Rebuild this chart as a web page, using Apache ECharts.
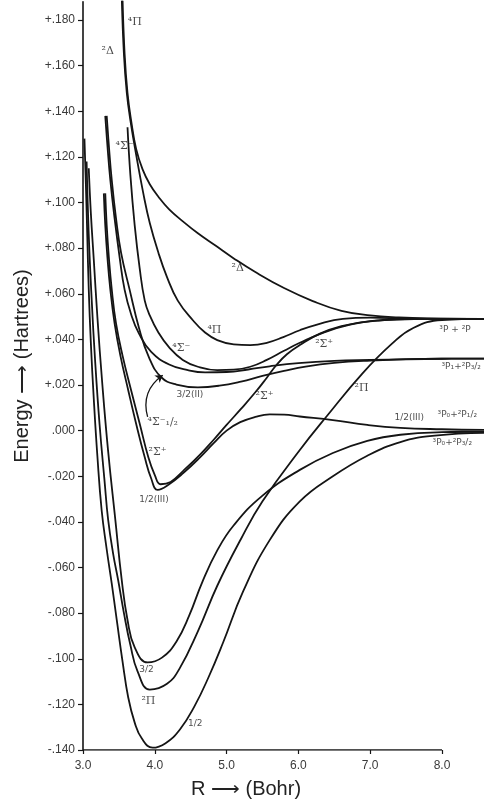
<!DOCTYPE html>
<html>
<head>
<meta charset="utf-8">
<script src="https://cdn.jsdelivr.net/npm/echarts@6/dist/echarts.min.js"></script>
<style>
  html, body { margin: 0; padding: 0; background: #fff; }
  #chart { width: 484px; height: 808px; }
</style>
</head>
<body>
<div id="chart"></div>
<script>
// Potential energy curves: energy (hartree) against internuclear distance R (bohr)

const xTicks = [3, 4, 5, 6, 7, 8];
const yTicks = [-0.14, -0.12, -0.10, -0.08, -0.06, -0.04, -0.02, 0, 0.02, 0.04, 0.06, 0.08, 0.10, 0.12, 0.14, 0.16, 0.18];
const baseR = [3, 8];

// 1/2 (deepest well)
const halfR = [3.02, 3.04, 3.06, 3.08, 3.11, 3.15, 3.20, 3.26, 3.33, 3.40, 3.47, 3.55, 3.63, 3.72, 3.82, 3.97, 4.15, 4.35, 4.55, 4.75, 4.95, 5.23, 5.6, 6.02, 6.48, 6.96, 7.42, 7.9, 8.6];
const halfE = [0.128, 0.108, 0.085, 0.062, 0.038, 0.014, -0.011, -0.035, -0.052, -0.067, -0.083, -0.101, -0.117, -0.128, -0.135, -0.139, -0.137, -0.131, -0.121, -0.108, -0.093, -0.0705, -0.048, -0.031, -0.020, -0.011, -0.005, -0.0022, -0.001];

// 2Π (bound, rising to the 3P+2P limit)
const twoPiR = [3.05, 3.08, 3.12, 3.17, 3.23, 3.30, 3.35, 3.42, 3.49, 3.57, 3.66, 3.76, 3.93, 4.17, 4.35, 4.6, 4.87, 5.2, 5.5, 6.02, 6.4, 6.89, 7.3, 7.6, 8.0, 8.6];
const twoPiE = [0.118, 0.086, 0.058, 0.030, 0.003, -0.022, -0.039, -0.054, -0.0656, -0.080, -0.094, -0.1055, -0.1135, -0.111, -0.104, -0.088, -0.068, -0.0475, -0.031, -0.0085, 0.0065, 0.025, 0.038, 0.045, 0.0485, 0.049];

// 3/2
const threeHalfR = [3.08, 3.11, 3.15, 3.20, 3.27, 3.35, 3.45, 3.54, 3.62, 3.72, 3.90, 4.1, 4.3, 4.48, 4.66, 4.87, 5.1, 5.5, 6.02, 6.48, 6.96, 7.42, 8.0, 8.6];
const threeHalfE = [0.115, 0.095, 0.075, 0.050, 0.020, -0.009, -0.039, -0.0656, -0.083, -0.095, -0.1016, -0.0995, -0.0925, -0.081, -0.0665, -0.0525, -0.0415, -0.0285, -0.0172, -0.0098, -0.0045, -0.0018, -0.0007, -0.0005];

// 1/2(III)
const halfIIIR = [3.29, 3.31, 3.34, 3.38, 3.44, 3.52, 3.63, 3.74, 3.86, 3.95, 4.04, 4.2, 4.4, 4.63, 4.82, 5.0, 5.19, 5.4, 5.6, 5.8, 6.02, 6.48, 6.96, 7.42, 8.0, 8.6];
const halfIIIE = [0.104, 0.090, 0.076, 0.062, 0.047, 0.033, 0.0177, 0.003, -0.0117, -0.021, -0.026, -0.0235, -0.0185, -0.0117, -0.0055, 0.0, 0.0037, 0.006, 0.0071, 0.007, 0.0062, 0.0046, 0.0025, 0.0012, 0.0006, 0.0003];

// 2Σ+
const sigPlusR = [3.31, 3.33, 3.36, 3.40, 3.46, 3.55, 3.67, 3.79, 3.91, 4.0, 4.08, 4.22, 4.4, 4.63, 4.82, 5.0, 5.2, 5.4, 5.56, 5.7, 5.84, 6.02, 6.3, 6.6, 7.0, 7.5, 8.0, 8.6];
const sigPlusE = [0.104, 0.090, 0.076, 0.062, 0.047, 0.033, 0.0177, 0.003, -0.0117, -0.0195, -0.0235, -0.0225, -0.0175, -0.0105, -0.004, 0.0025, 0.0095, 0.0168, 0.0232, 0.029, 0.0335, 0.0375, 0.0425, 0.0458, 0.0480, 0.0488, 0.049, 0.049];

// 4Σ-
const sigMinusR = [3.62, 3.66, 3.72, 3.79, 3.86, 3.93, 4.05, 4.2, 4.39, 4.6, 4.87, 5.1, 5.33, 5.56, 5.8, 6.02, 6.35, 6.72, 7.1, 7.6, 8.6];
const sigMinusE = [0.133, 0.112, 0.090, 0.071, 0.057, 0.0505, 0.043, 0.0365, 0.031, 0.028, 0.0265, 0.0267, 0.028, 0.031, 0.035, 0.0385, 0.043, 0.0465, 0.0482, 0.049, 0.049];

// 4Σ-(1/2)
const sigHalfR = [3.31, 3.34, 3.38, 3.44, 3.51, 3.58, 3.67, 3.78, 3.95, 4.2, 4.46, 4.7, 5.0, 5.3, 5.6, 6.0, 6.5, 7.0, 7.5, 8.0, 8.6];
const sigHalfE = [0.138, 0.125, 0.11, 0.093, 0.076, 0.0617, 0.051, 0.0425, 0.0345, 0.029, 0.0265, 0.0255, 0.0257, 0.0268, 0.0282, 0.0296, 0.0306, 0.031, 0.0313, 0.0315, 0.0316];

// 3/2(II)
const threeHalfIIR = [3.33, 3.36, 3.40, 3.46, 3.53, 3.65, 3.78, 3.92, 4.09, 4.3, 4.6, 4.9, 5.2, 5.5, 5.8, 6.1, 6.5, 7.0, 7.5, 8.0, 8.6];
const threeHalfIIE = [0.138, 0.125, 0.11, 0.093, 0.078, 0.0617, 0.045, 0.032, 0.0234, 0.0202, 0.019, 0.0197, 0.0215, 0.024, 0.0262, 0.0281, 0.0297, 0.0307, 0.0312, 0.0315, 0.0316];

// 4Π
const fourPiR = [3.54, 3.57, 3.61, 3.66, 3.74, 3.84, 3.93, 4.05, 4.17, 4.32, 4.53, 4.7, 4.87, 5.1, 5.33, 5.56, 5.79, 6.02, 6.26, 6.62, 7.0, 7.5, 8.6];
const fourPiE = [0.19, 0.165, 0.148, 0.136, 0.121, 0.104, 0.091, 0.078, 0.0673, 0.057, 0.0484, 0.043, 0.0397, 0.0378, 0.0375, 0.0385, 0.041, 0.044, 0.0465, 0.049, 0.0495, 0.0492, 0.049];

// 2Δ
const twoDeltaR = [3.55, 3.58, 3.62, 3.67, 3.74, 3.83, 3.93, 4.05, 4.2, 4.4, 4.6, 4.85, 5.1, 5.4, 5.8, 6.2, 6.6, 7.0, 7.4, 7.8, 8.6];
const twoDeltaE = [0.19, 0.165, 0.148, 0.136, 0.1235, 0.1145, 0.108, 0.1025, 0.097, 0.0915, 0.0865, 0.081, 0.0755, 0.0695, 0.0625, 0.0568, 0.0525, 0.0505, 0.0496, 0.0492, 0.049];

// State and asymptote labels, anchored at (R, E)
const labelText = ['⁴Π', '²Δ', '⁴Σ⁻', '²Δ', '⁴Π', '⁴Σ⁻', '²Σ⁺', '3/2(II)', '⁴Σ⁻₁/₂', '²Σ⁺', '²Σ⁺', '1/2(III)', '²Π', '1/2(III)', '³P₀+²P₁/₂', '³P₀+²P₃/₂', '³P₁+²P₃/₂', '³P + ²P', '3/2', '²Π', '1/2'];
const labelR = [3.63, 3.265, 3.46, 5.075, 4.74, 4.25, 6.24, 4.31, 3.905, 5.41, 3.92, 3.79, 6.79, 7.345, 7.945, 7.875, 8.0, 7.97, 3.79, 3.82, 4.47];
const labelE = [0.179, 0.166, 0.1243, 0.0712, 0.044, 0.0361, 0.0375, 0.0155, 0.0037, 0.0147, -0.0095, -0.0305, 0.0186, 0.0054, 0.0067, -0.0055, 0.0278, 0.044, -0.105, -0.119, -0.1285];

// Curved pointer from the 4Σ-(1/2) tag to its curve
const arrowTail = [3.90, 0.0060];
const arrowHead = [4.11, 0.0243];

const ink = '#151515';
const tickFont = '"Liberation Sans", Arial, sans-serif';

function pairs(rs, es) { return rs.map((r, i) => [r, es[i]]); }

function curve(name, rs, es) {
  return {
    type: 'line',
    name: name,
    data: pairs(rs, es),
    symbol: 'none',
    showSymbol: false,
    smooth: 0.45,
    clip: true,
    silent: true,
    lineStyle: { color: ink, width: 1.8 },
    z: 3
  };
}

function energyLabel(v) {
  const n = Math.round(v * 1000);
  if (n === 0) return '.000';
  const s = '.' + String(Math.abs(n)).padStart(3, '0');
  return (n > 0 ? '+' : '-') + s;
}

const isGreek = t => /[ΠΔΣ]/.test(t);

const labelData = labelText.map((t, i) => ({
  value: [labelR[i], labelE[i]],
  name: t,
  label: {
    fontSize: isGreek(t) ? 11 : 9,
    fontFamily: isGreek(t) ? '"DejaVu Serif", "Liberation Serif", serif' : '"DejaVu Sans", sans-serif'
  }
}));

const chart = echarts.init(document.getElementById('chart'), null, { renderer: 'canvas' });

chart.setOption({
  animation: false,
  backgroundColor: '#ffffff',
  grid: { left: 83, right: 0, top: 1.75, bottom: 58, containLabel: false, outerBoundsMode: 'none' },
  xAxis: {
    type: 'value',
    min: 3,
    max: 8.585,
    axisLine: { show: false, onZero: false },
    axisTick: { show: true, customValues: xTicks, length: 4, lineStyle: { color: ink, width: 1.2 } },
    axisLabel: {
      customValues: xTicks, margin: 10, color: '#3a3a3a', fontSize: 12, fontFamily: tickFont,
      formatter: v => v.toFixed(1)
    },
    splitLine: { show: false }
  },
  yAxis: {
    type: 'value',
    min: -0.14,
    max: 0.188,
    axisLine: { show: true, onZero: false, lineStyle: { color: ink, width: 1.6 } },
    axisTick: { show: true, customValues: yTicks, length: 5, lineStyle: { color: ink, width: 1.2 } },
    axisLabel: {
      customValues: yTicks, margin: 8, color: '#3a3a3a', fontSize: 12, fontFamily: tickFont,
      formatter: energyLabel
    },
    splitLine: { show: false }
  },
  graphic: [
    {
      type: 'text', x: 22, y: 366, rotation: Math.PI / 2,
      style: { text: 'Energy ⟶ (Hartrees)', font: '20px "Liberation Sans", Arial, sans-serif', fill: '#222', align: 'center', verticalAlign: 'middle' }
    },
    {
      type: 'text', x: 246, y: 789,
      style: { text: 'R ⟶ (Bohr)', font: '20px "Liberation Sans", Arial, sans-serif', fill: '#222', align: 'center', verticalAlign: 'middle' }
    }
  ],
  series: [
    {
      type: 'line', name: 'baseline',
      data: baseR.map(r => [r, yTicks[0]]),
      symbol: 'none', silent: true,
      lineStyle: { color: ink, width: 1.6 }, z: 2
    },
    curve('1/2', halfR, halfE),
    curve('2Π', twoPiR, twoPiE),
    curve('3/2', threeHalfR, threeHalfE),
    curve('1/2(III)', halfIIIR, halfIIIE),
    curve('2Σ+', sigPlusR, sigPlusE),
    curve('4Σ-', sigMinusR, sigMinusE),
    curve('4Σ-1/2', sigHalfR, sigHalfE),
    curve('3/2(II)', threeHalfIIR, threeHalfIIE),
    curve('4Π', fourPiR, fourPiE),
    curve('2Δ', twoDeltaR, twoDeltaE),
    {
      type: 'lines',
      coordinateSystem: 'cartesian2d',
      silent: true,
      symbol: ['none', 'arrow'],
      symbolSize: 7,
      lineStyle: { color: ink, width: 1.3, curveness: 0.35, opacity: 1 },
      data: [{ coords: [arrowTail, arrowHead] }],
      z: 4
    },
    {
      type: 'scatter',
      name: 'labels',
      silent: true,
      symbolSize: 1,
      itemStyle: { color: 'rgba(0,0,0,0)' },
      data: labelData,
      label: {
        show: true,
        position: [0, 0],
        align: 'left',
        verticalAlign: 'middle',
        color: '#1a1a1a',
        formatter: '{b}'
      },
      z: 5
    }
  ]
});
</script>
</body>
</html>
